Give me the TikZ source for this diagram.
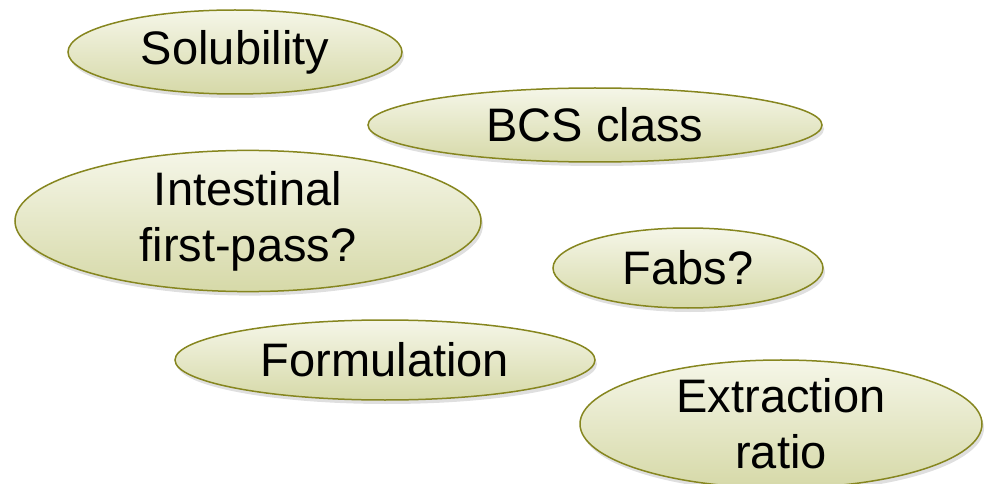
\documentclass[tikz,border=0pt]{standalone}
\usepackage{fontspec}
\setmainfont{Liberation Sans}
\usepackage{xcolor}
\usepackage{tikz}
\usetikzlibrary{shapes.geometric}
\usetikzlibrary{shadows}

\definecolor{olivedge}{HTML}{86861F}
\definecolor{bubtop}{HTML}{F5F6E8}
\definecolor{bubbot}{HTML}{D6D9A8}

\tikzset{
    bubble/.style = {ellipse, draw = olivedge, line width = 1.5pt,
        top color = bubtop, bottom color = bubbot, inner sep = 0pt,
        align = center, font = \fontsize{47}{56}\selectfont,
        drop shadow = {shadow xshift = 2pt, shadow yshift = -4pt, opacity = 0.25}}
}

\begin{document}
\begin{tikzpicture}[x = 1pt, y = -1pt]
        \useasboundingbox (0, 0) rectangle (1002, 484);

        \node[bubble, minimum width = 334pt, minimum height = 84pt] (solub)
            at (235, 52) {Solubility};
        \node[bubble, minimum width = 454pt, minimum height = 74pt] (bcs)
            at (595, 125) {BCS class};
        \node[bubble, minimum width = 466pt, minimum height = 126pt] (intest)
            at (248, 221) {Intestinal\\first-pass?};
        \node[bubble, minimum width = 270pt, minimum height = 80pt] (fabs)
            at (688, 268) {Fabs?};
        \node[bubble, minimum width = 420pt, minimum height = 80pt] (formul)
            at (385, 360) {Formulation};
        \node[bubble, minimum width = 402pt, minimum height = 116pt] (extract)
            at (781, 424) {Extraction\\ratio};
    \end{tikzpicture}
\end{document}
